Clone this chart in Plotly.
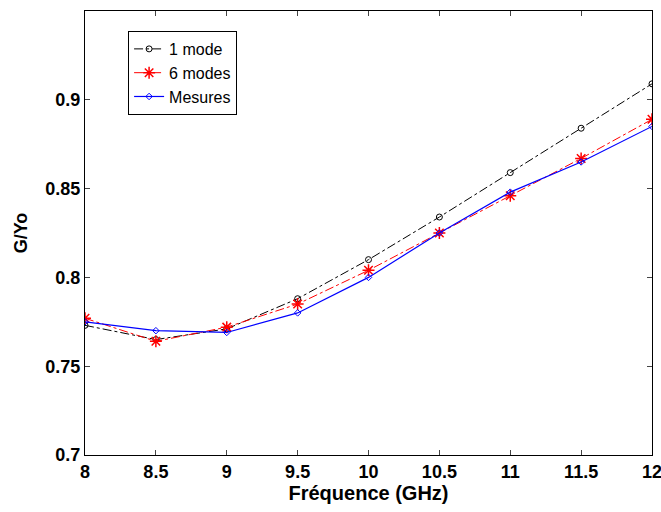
import plotly.graph_objects as go

freq = [8, 8.5, 9, 9.5, 10, 10.5, 11, 11.5, 12]
one_mode = [0.773, 0.765, 0.771, 0.788, 0.810, 0.834, 0.859, 0.884, 0.909]
six_modes = [0.777, 0.764, 0.772, 0.785, 0.804, 0.825, 0.846, 0.867, 0.889]
mesures = [0.775, 0.770, 0.769, 0.780, 0.800, 0.825, 0.848, 0.865, 0.885]
x_ticks = [8, 8.5, 9, 9.5, 10, 10.5, 11, 11.5, 12]
y_ticks = [0.7, 0.75, 0.8, 0.85, 0.9]

fig = go.Figure()
fig.add_trace(go.Scatter(x=freq, y=one_mode, name="1 mode", mode="lines+markers",
                         line=dict(color="black", width=1, dash="dashdot"),
                         marker=dict(symbol="circle-open", size=6, color="black", line=dict(width=1))))
fig.add_trace(go.Scatter(x=freq, y=six_modes, name="6 modes", mode="lines+markers",
                         line=dict(color="red", width=1, dash="dashdot"),
                         marker=dict(symbol="asterisk-open", size=10, color="red", line=dict(width=1.5, color="red"))))
fig.add_trace(go.Scatter(x=freq, y=mesures, name="Mesures", mode="lines+markers",
                         line=dict(color="blue", width=1.2),
                         marker=dict(symbol="diamond-open", size=5, color="blue", line=dict(width=1))))

FAM = "Liberation Sans, Arial"
axis_font = dict(family=FAM, size=18, color="black", weight="bold")
fig.update_layout(
    width=661, height=512,
    margin=dict(l=85, r=9, t=11, b=57),
    plot_bgcolor="white", paper_bgcolor="white",
    font=dict(family=FAM, color="black"),
    showlegend=True,
    legend=dict(x=0.076, y=0.955, xanchor="left", yanchor="top",
                bgcolor="white", bordercolor="black", borderwidth=1,
                font=dict(size=16, family=FAM, color="black"),
                tracegroupgap=0, itemwidth=30),
    xaxis=dict(range=[8, 12], tickvals=x_ticks, ticktext=[f"<b>{v:g}</b>" for v in x_ticks],
               ticks="inside", ticklen=5, mirror="ticks", showline=True, linecolor="black",
               linewidth=1.2, showgrid=False, zeroline=False, tickfont=axis_font, automargin=False,
               ticklabeloverflow="allow",
               title=dict(text="<b>Fréquence (GHz)</b>", font=dict(size=20, family=FAM, color="black"), standoff=4)),
    yaxis=dict(range=[0.7, 0.95], tickvals=y_ticks, ticktext=[f"<b>{v:g}</b>" for v in y_ticks],
               ticks="inside", ticklen=5, mirror="ticks", showline=True, linecolor="black",
               linewidth=1.2, showgrid=False, zeroline=False, tickfont=axis_font, automargin=False,
               title=dict(text="<b>G/Yo</b>", font=dict(size=18, family=FAM, color="black"), standoff=12)),
)
fig.write_html("out.html", config={"displayModeBar": False},
               post_script="document.body.style.margin='0';document.body.style.overflow='hidden';")
